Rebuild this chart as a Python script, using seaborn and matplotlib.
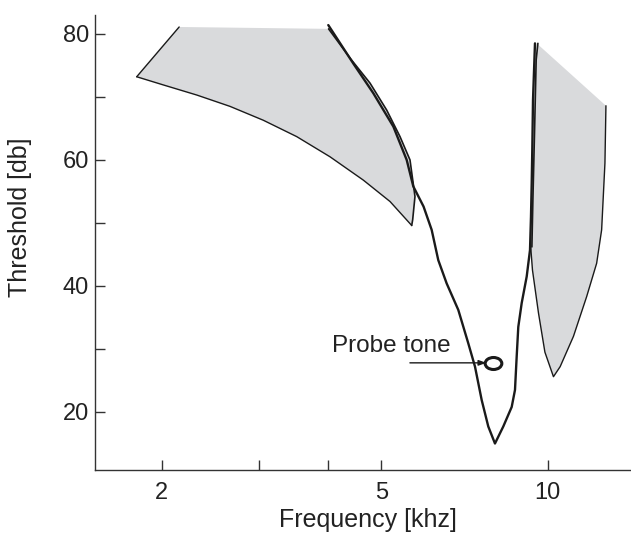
import numpy as np
import pandas as pd
import matplotlib
matplotlib.use('Agg')
import matplotlib.pyplot as plt
from matplotlib.path import Path
from matplotlib.transforms import Affine2D
from matplotlib.ticker import FixedLocator, NullFormatter
import seaborn as sns

# 데이터 (kHz, dB) - 그림에서 읽은 값
# 왼쪽 음영 영역: 아래 경계
left_lower_f = [1.801, 2.013, 2.314, 2.658, 3.054, 3.511, 4.034, 4.635, 5.182, 5.672]
left_lower_db = [73.2, 71.9, 70.3, 68.5, 66.3, 63.7, 60.5, 56.8, 53.4, 49.6]
# 왼쪽 음영 영역: 위 경계
left_top_f = [1.801, 2.15, 4.01]
left_top_db = [73.2, 81.1, 80.8]
# 왼쪽 음영 영역: 오른쪽 경계
left_edge_f = [4.01, 4.40, 4.766, 5.111, 5.402, 5.632, 5.750, 5.695, 5.672]
left_edge_db = [80.8, 76.0, 72.2, 67.9, 63.7, 60.0, 54.2, 50.5, 49.6]

# 튜닝 곡선
tuning_f = [4.005, 4.446, 4.832, 5.254, 5.555, 5.710, 5.960, 6.165, 6.337, 6.563,
            6.889, 7.182, 7.386, 7.595, 7.807, 8.028, 8.311, 8.608, 8.727, 8.789, 8.848,
            8.975, 9.164, 9.291, 9.329, 9.357, 9.380, 9.408, 9.486]
tuning_db = [81.4, 75.3, 70.6, 65.3, 60.0, 55.8, 52.6, 48.9, 44.1, 40.4,
             36.2, 30.9, 27.2, 21.9, 17.7, 15.0, 17.7, 20.8, 23.5, 28.8, 33.5,
             37.3, 41.5, 45.7, 51.0, 56.3, 61.6, 69.5, 78.5]

# 오른쪽 음영 영역 (위-왼쪽에서 시계 방향)
right_f = [9.554, 12.754, 12.701, 12.527, 12.269, 11.767, 11.137, 10.537, 10.246,
           9.887, 9.626, 9.388, 9.318, 9.357, 9.420, 9.486, 9.554]
right_db = [78.5, 68.6, 59.5, 48.9, 43.6, 38.3, 32.0, 27.2, 25.6,
            29.5, 35.7, 42.5, 46.2, 53.7, 64.2, 75.9, 78.5]

probe_f, probe_db = 7.97, 27.8
arrow_start_f = 5.63
text_f, text_db = 4.06, 29.6

x_major = [2, 5, 10]
x_minor = [3, 4]
y_major = [20, 40, 60, 80]
y_minor = [30, 50, 70]

# 스타일
sns.set_style('ticks')
plt.rcParams['font.family'] = ['Liberation Sans', 'DejaVu Sans']

fig = plt.figure(figsize=(6.31, 5.34), dpi=100)
ax = fig.add_axes([0.1512, 0.1199, 0.8472, 0.852])
ax.set_xscale('log')

fill_col = '#d9dadc'
line_col = '#1a1a1a'

# 왼쪽 음영 영역
left_poly_f = left_top_f + left_edge_f[1:] + left_lower_f[::-1][1:]
left_poly_db = left_top_db + left_edge_db[1:] + left_lower_db[::-1][1:]
ax.fill(left_poly_f, left_poly_db, color=fill_col, lw=0, zorder=1)

# 오른쪽 음영 영역
ax.fill(right_f, right_db, color=fill_col, lw=0, zorder=1)

# 윤곽선
sns.lineplot(x=left_top_f[:2], y=left_top_db[:2], sort=False, estimator=None,
             color=line_col, lw=1.0, ax=ax)
sns.lineplot(x=left_lower_f, y=left_lower_db, sort=False, estimator=None,
             color=line_col, lw=1.0, ax=ax)
sns.lineplot(x=left_edge_f, y=left_edge_db, sort=False, estimator=None,
             color=line_col, lw=1.2, ax=ax, solid_joinstyle='round')
sns.lineplot(x=right_f[1:13], y=right_db[1:13], sort=False, estimator=None,
             color=line_col, lw=1.0, ax=ax)
sns.lineplot(x=[v * 1.005 for v in right_f[12:]], y=right_db[12:], sort=False,
             estimator=None, color=line_col, lw=1.2, ax=ax)

# 튜닝 곡선
sns.lineplot(x=tuning_f, y=tuning_db, sort=False, estimator=None,
             color=line_col, lw=1.7, ax=ax, solid_joinstyle='round')

# Probe tone
ell = Path.unit_circle().transformed(Affine2D().scale(1.0, 0.72))
ax.plot([probe_f], [probe_db], marker=ell, markersize=12, mfc='none', mec=line_col,
        mew=2.2, zorder=5)
ax.annotate('', xy=(probe_f * 0.972, probe_db), xytext=(arrow_start_f, probe_db),
            arrowprops=dict(arrowstyle='-|>,head_length=0.45,head_width=0.16',
                            color=line_col, lw=1.0, shrinkA=0, shrinkB=0))
ax.text(text_f, text_db, 'Probe tone', ha='left', va='baseline', fontsize=17.5,
        color='#222222')

# 축
ax.set_xlim(1.516, 14.1)
ax.set_ylim(10.8, 83.0)
ax.xaxis.set_major_locator(FixedLocator(x_major))
ax.xaxis.set_minor_locator(FixedLocator(x_minor))
ax.xaxis.set_minor_formatter(NullFormatter())
ax.set_xticklabels([str(v) for v in x_major])
ax.set_yticks(y_major)
ax.set_yticks(y_minor, minor=True)

ax.tick_params(which='both', direction='in', length=7.5, width=1.0, color='#333333',
               labelsize=17, labelcolor='#222222')
ax.tick_params(axis='x', which='both', pad=9)
ax.tick_params(axis='y', which='both', pad=4.5)

sns.despine(ax=ax)
for s in ['left', 'bottom']:
    ax.spines[s].set_color('#333333')
    ax.spines[s].set_linewidth(1.0)

ax.set_xlabel('Frequency [khz]', fontsize=18, color='#222222')
ax.set_ylabel('Threshold [db]', fontsize=18, color='#222222')
ax.xaxis.set_label_coords(0.51, -0.083)
ax.yaxis.set_label_coords(-0.118, 0.555)

fig.savefig('out.png', dpi=100)
